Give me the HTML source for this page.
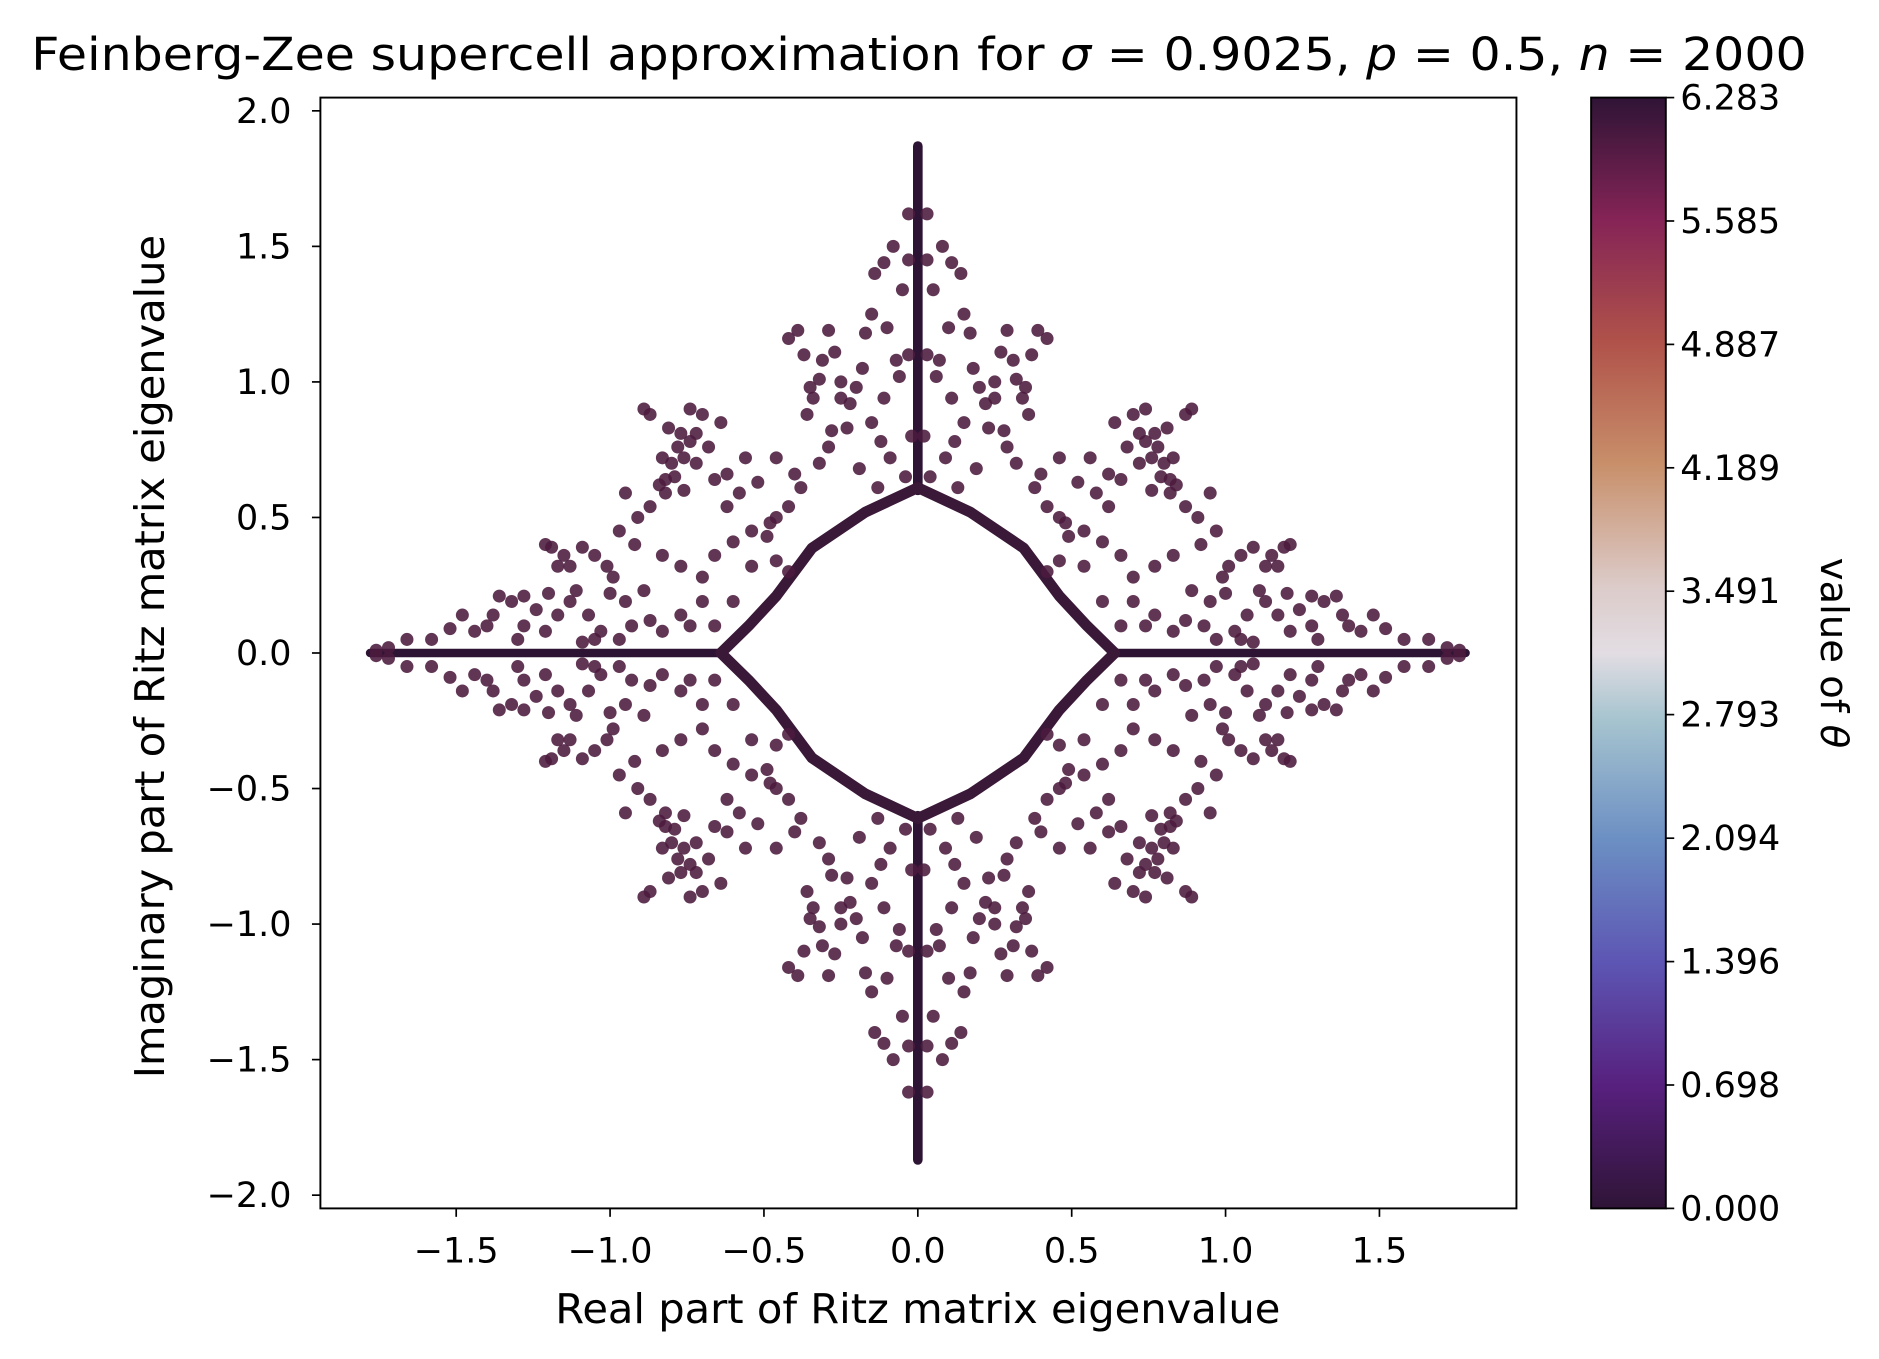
<!DOCTYPE html>
<html><head><meta charset="utf-8"><style>
html,body{margin:0;padding:0;background:#fff}
svg{display:block}
text{font-family:"DejaVu Sans","Liberation Sans",sans-serif;fill:#000}
</style></head><body>
<svg id="chart" width="1879" height="1359" viewBox="0 0 1560 1128" preserveAspectRatio="none" xmlns="http://www.w3.org/2000/svg">
<defs>
<linearGradient id="cmap" x1="0" y1="1" x2="0" y2="0">
<stop offset="0" stop-color="#2f1436"/>
<stop offset="0.11" stop-color="#57207e"/>
<stop offset="0.22" stop-color="#5d55b3"/>
<stop offset="0.33" stop-color="#6b8ec3"/>
<stop offset="0.44" stop-color="#a6c4cf"/>
<stop offset="0.5" stop-color="#e2dde3"/>
<stop offset="0.56" stop-color="#dccbc9"/>
<stop offset="0.67" stop-color="#c88f6a"/>
<stop offset="0.78" stop-color="#b0524a"/>
<stop offset="0.89" stop-color="#852456"/>
<stop offset="1" stop-color="#2f1436"/>
</linearGradient>
<clipPath id="clip"><rect x="266" y="81" width="993" height="922"/></clipPath>
</defs>
<text x="763" y="58" font-size="38" text-anchor="middle" textLength="1474" lengthAdjust="spacingAndGlyphs">Feinberg-Zee supercell approximation for <tspan font-style="italic">σ</tspan> = 0.9025, <tspan font-style="italic">p</tspan> = 0.5, <tspan font-style="italic">n</tspan> = 2000</text>
<g id="plot" clip-path="url(#clip)"></g>
<rect x="266" y="81" width="993" height="922" fill="none" stroke="#000" stroke-width="1.6"/>
<g id="xticks"></g>
<g id="yticks"></g>
<text x="762" y="1098" font-size="34" text-anchor="middle" textLength="602" lengthAdjust="spacingAndGlyphs">Real part of Ritz matrix eigenvalue</text>
<text transform="translate(136,545) rotate(-90)" font-size="34" text-anchor="middle" textLength="700" lengthAdjust="spacingAndGlyphs">Imaginary part of Ritz matrix eigenvalue</text>
<rect x="1321" y="81" width="62" height="922" fill="url(#cmap)" stroke="#000" stroke-width="1.6"/>
<g id="cticks"></g>
<text transform="translate(1512,542) rotate(90)" font-size="32" text-anchor="middle">value of <tspan font-style="italic">θ</tspan></text>
</svg>
<script>
const xTicks=[-1.5,-1.0,-0.5,0.0,0.5,1.0,1.5];
const yTicks=[-2.0,-1.5,-1.0,-0.5,0.0,0.5,1.0,1.5,2.0];
const cTickLabels=["0.000","0.698","1.396","2.094","2.793","3.491","4.189","4.887","5.585","6.283"];
const cMax=6.283;
const ringRight=[[0,0.61],[0.17,0.52],[0.344,0.387],[0.46,0.21],[0.55,0.1],[0.64,0]];
const spikeV=[0.6,1.87];
const spikeH=[0.65,1.78];
const qx=[0.11,0.14,0.08,0.05,0.15,0.07,0.11,0.15,0.09,0.04,0.13,0.19,0.27,0.31,0.32,0.34,0.36,0.29,0.39,0.42,0.37,0.25,0.23,0.29,0.32,0.38,0.42,0.46,0.49,0.54,0.46,0.42,0.56,0.46,0.52,0.58,0.62,0.64,0.68,0.72,0.76,0.79,0.83,0.77,0.74,0.70,0.87,0.89,0.81,0.82,0.87,0.95,0.91,0.97,0.66,0.70,0.77,0.83,0.89,0.95,0.99,1.01,1.05,1.09,1.13,1.17,1.15,1.19,1.21,1.11,1.07,1.13,1.17,1.21,1.24,1.28,1.32,1.36,1.38,1.40,1.44,1.48,1.28,0.70,0.74,0.77,0.83,0.87,0.93,0.97,1.03,1.09,0.66,0.60,1.58,1.66,0.54,0.60,0.74,0.78,0.80,0.72,0.25,0.20,0.17,0.22,1.72,1.76,0.03,0.03,0.03,0.02,0.10,0.12,0.06,0.18,0.28,0.35,0.40,0.48,0.62,0.66,0.84,0.92,1.00,1.05,1.20,1.30,1.52,0.76,0.82];
const qy=[1.44,1.40,1.50,1.34,1.25,1.08,0.94,0.85,0.72,0.65,0.61,0.68,1.11,1.08,1.01,0.94,0.88,1.19,1.19,1.16,1.10,0.94,0.83,0.76,0.70,0.61,0.54,0.50,0.43,0.32,0.34,0.30,0.72,0.72,0.63,0.59,0.54,0.85,0.76,0.81,0.72,0.65,0.72,0.81,0.90,0.88,0.88,0.90,0.83,0.59,0.54,0.59,0.50,0.45,0.36,0.28,0.32,0.36,0.23,0.19,0.28,0.32,0.36,0.39,0.32,0.32,0.36,0.39,0.40,0.23,0.14,0.19,0.14,0.08,0.16,0.21,0.19,0.21,0.14,0.10,0.08,0.14,0.10,0.19,0.10,0.14,0.08,0.12,0.10,0.05,0.08,0.04,0.10,0.19,0.05,0.05,0.45,0.41,0.78,0.76,0.70,0.70,1.00,0.98,1.18,0.92,0.02,0.01,1.10,1.45,1.62,0.80,1.20,0.78,1.02,1.05,0.82,0.98,0.66,0.48,0.66,0.64,0.62,0.40,0.22,0.05,0.22,0.05,0.09,0.60,0.64];
const NS="http://www.w3.org/2000/svg";
const X=v=>762+v*255.5, Y=v=>542-v*225;
const plot=document.getElementById('plot');
function mk(tag,attrs,parent){const e=document.createElementNS(NS,tag);for(const k in attrs)e.setAttribute(k,attrs[k]);parent.appendChild(e);return e;}
const signs=[[1,1],[-1,1],[1,-1],[-1,-1]];
for(const s of [1,-1]){
 const v=mk('line',{x1:X(0),x2:X(0),y1:Y(s*spikeV[0]),y2:Y(s*spikeV[1]),stroke:'#2e1434','stroke-width':8,'stroke-linecap':'round'},plot);
 
 
 const h=mk('line',{y1:Y(0),y2:Y(0),x1:X(s*spikeH[0]),x2:X(s*spikeH[1]),stroke:'#2e1434','stroke-width':7,'stroke-linecap':'round'},plot);
 
 
}
for(const [sx,sy] of signs){
 const pts=ringRight.map(p=>X(sx*p[0])+','+Y(sy*p[1])).join(' ');
 const r=mk('polyline',{points:pts,fill:'none',stroke:'#3a1838','stroke-width':9,'stroke-linejoin':'round','stroke-linecap':'round'},plot);
 
 
}
for(const [sx,sy] of signs){
 for(let i=0;i<qx.length;i++){
  const c=mk('circle',{cx:X(sx*qx[i]),cy:Y(sy*qy[i]),r:5.4,fill:'#4b1a3e','fill-opacity':0.88},plot);
  
  
 }
}
const xg=document.getElementById('xticks');
xTicks.forEach(t=>{
 const l=mk('line',{x1:X(t),x2:X(t),y1:1003,y2:1010,stroke:'#000','stroke-width':1.4},xg);
 
 
 const tx=mk('text',{x:X(t),y:1048,'font-size':29,'text-anchor':'middle'},xg);
 tx.textContent=(t<0?'\u2212':'')+Math.abs(t).toFixed(1);
 
 
});
const yg=document.getElementById('yticks');
yTicks.forEach(t=>{
 const l=mk('line',{x1:259,x2:266,y1:Y(t),y2:Y(t),stroke:'#000','stroke-width':1.4},yg);
 
 
 const tx=mk('text',{x:242,y:Y(t)+10,'font-size':29,'text-anchor':'end'},yg);
 tx.textContent=(t<0?'\u2212':'')+Math.abs(t).toFixed(1);
 
 
});
const cg=document.getElementById('cticks');
cTickLabels.forEach(s=>{
 const y=1003-parseFloat(s)/cMax*922;
 const l=mk('line',{x1:1383,x2:1390,y1:y,y2:y,stroke:'#000','stroke-width':1.4},cg);
 
 
 const tx=mk('text',{x:1395,y:y+10,'font-size':29},cg);
 tx.textContent=s;
 
 
});
</script>
</body></html>
